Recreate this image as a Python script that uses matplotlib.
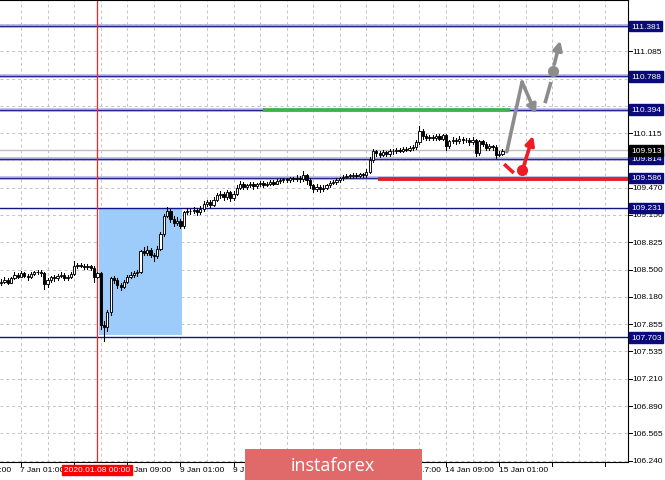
import matplotlib
matplotlib.use("Agg")
import matplotlib.pyplot as plt
import matplotlib.transforms as mtransforms
from matplotlib.patches import Rectangle

# H1 bars, index 0 = 7 Jan 01:00 (weekend skipped)
first_bar = -6
first_open = 108.34
closes = [
    108.36, 108.38, 108.35, 108.40, 108.44, 108.42,                     # -6..-1
    108.46, 108.43, 108.41, 108.45, 108.47, 108.48, 108.46, 108.33,     # 0..7
    108.38, 108.41, 108.40, 108.43, 108.44, 108.40, 108.42, 108.45,     # 8..15
    108.54, 108.56, 108.55, 108.53, 108.55, 108.52, 108.42, 108.46,     # 16..23
    107.85, 107.82, 108.00, 108.40, 108.38, 108.32, 108.30, 108.36,     # 24..31
    108.42, 108.44, 108.46, 108.47, 108.72, 108.70, 108.74, 108.68,     # 32..39
    108.66, 108.75, 108.92, 109.14, 109.20, 109.10, 109.05, 109.08,     # 40..47
    109.02, 109.18, 109.20, 109.19, 109.21, 109.18, 109.22, 109.28,     # 48..55
    109.30, 109.27, 109.33, 109.38, 109.40, 109.36, 109.42, 109.35,     # 56..63
    109.40, 109.47, 109.52, 109.48, 109.50, 109.52, 109.49, 109.51,     # 64..71
    109.53, 109.50, 109.52, 109.54, 109.52, 109.55, 109.56, 109.57,     # 72..79
    109.56, 109.58, 109.57, 109.59, 109.57, 109.62, 109.56, 109.50,     # 80..87
    109.46, 109.48, 109.45, 109.47, 109.50, 109.53, 109.54, 109.56,     # 88..95
    109.58, 109.60, 109.61, 109.61, 109.62, 109.61, 109.63, 109.62,     # 96..103
    109.66, 109.80, 109.90, 109.88, 109.86, 109.89, 109.87, 109.91,     # 104..111
    109.90, 109.92, 109.91, 109.93, 109.92, 109.94, 109.95, 110.01,     # 112..119
    110.14, 110.08, 110.06, 110.07, 110.06, 110.08, 110.05, 110.09,     # 120..127
    109.96, 110.02, 110.04, 110.02, 110.05, 110.03, 110.04, 110.01,     # 128..135
    110.03, 109.88, 110.02, 109.99, 109.94, 109.96, 109.95, 109.86,     # 136..143
    109.87, 109.91,                                                     # 144..145
]
highs = [
    108.39, 108.41, 108.40, 108.42, 108.47, 108.46,
    108.49, 108.48, 108.45, 108.47, 108.49, 108.50, 108.50, 108.47,
    108.40, 108.43, 108.44, 108.45, 108.47, 108.46, 108.44, 108.47,
    108.60, 108.58, 108.58, 108.57, 108.57, 108.56, 108.54, 108.48,
    108.47, 107.90, 108.02, 108.42, 108.43, 108.40, 108.35, 108.38,
    108.44, 108.47, 108.49, 108.50, 108.74, 108.77, 108.78, 108.76,
    108.70, 108.78, 108.95, 109.16, 109.24, 109.22, 109.14, 109.12,
    109.10, 109.20, 109.23, 109.22, 109.24, 109.23, 109.25, 109.31,
    109.33, 109.32, 109.36, 109.41, 109.43, 109.42, 109.44, 109.43,
    109.43, 109.50, 109.55, 109.54, 109.52, 109.54, 109.54, 109.53,
    109.55, 109.55, 109.54, 109.56, 109.56, 109.57, 109.58, 109.59,
    109.59, 109.60, 109.60, 109.62, 109.61, 109.67, 109.63, 109.58,
    109.52, 109.51, 109.50, 109.50, 109.52, 109.55, 109.56, 109.58,
    109.60, 109.62, 109.63, 109.63, 109.64, 109.64, 109.65, 109.65,
    109.69, 109.83, 109.93, 109.92, 109.91, 109.92, 109.91, 109.93,
    109.93, 109.94, 109.94, 109.95, 109.95, 109.96, 109.97, 110.04,
    110.20, 110.16, 110.10, 110.09, 110.09, 110.10, 110.10, 110.11,
    110.10, 110.04, 110.07, 110.06, 110.08, 110.07, 110.06, 110.06,
    110.07, 110.05, 110.04, 110.04, 110.01, 109.99, 109.98, 109.97,
    109.90, 109.93,
]
lows = [
    108.32, 108.34, 108.33, 108.34, 108.39, 108.40,
    108.41, 108.41, 108.38, 108.40, 108.44, 108.45, 108.43, 108.27,
    108.30, 108.36, 108.37, 108.38, 108.41, 108.38, 108.38, 108.40,
    108.44, 108.52, 108.53, 108.51, 108.51, 108.50, 108.36, 108.40,
    107.80, 107.66, 107.78, 107.96, 108.34, 108.28, 108.26, 108.28,
    108.34, 108.40, 108.42, 108.43, 108.46, 108.67, 108.68, 108.65,
    108.61, 108.64, 108.73, 108.90, 109.12, 109.06, 109.02, 109.03,
    108.99, 109.00, 109.16, 109.16, 109.17, 109.15, 109.16, 109.20,
    109.25, 109.24, 109.25, 109.31, 109.35, 109.33, 109.34, 109.31,
    109.33, 109.38, 109.45, 109.45, 109.46, 109.48, 109.46, 109.47,
    109.49, 109.48, 109.49, 109.50, 109.50, 109.51, 109.53, 109.54,
    109.54, 109.54, 109.55, 109.55, 109.54, 109.55, 109.52, 109.47,
    109.42, 109.43, 109.42, 109.43, 109.45, 109.48, 109.51, 109.52,
    109.54, 109.56, 109.58, 109.59, 109.59, 109.59, 109.60, 109.60,
    109.60, 109.64, 109.78, 109.85, 109.83, 109.84, 109.84, 109.85,
    109.87, 109.88, 109.89, 109.89, 109.90, 109.90, 109.92, 109.93,
    109.99, 110.05, 110.03, 110.04, 110.04, 110.04, 110.03, 110.03,
    109.92, 109.94, 110.00, 109.99, 110.00, 110.00, 110.01, 109.98,
    109.99, 109.85, 109.86, 109.96, 109.92, 109.92, 109.92, 109.82,
    109.84, 109.86,
]

price_labels = [106.240, 106.565, 106.890, 107.210, 107.535, 107.855, 108.180,
                108.500, 108.825, 109.150, 109.470, 110.115, 111.085]
price_grid = price_labels + [109.795, 110.440, 110.760, 111.405]

# time labels that show (some are partly covered in the source picture)
time_ticks = [-16, 0, 32, 48, 64, 112, 128, 144]
time_labels = ["6 Jan 09:00", "7 Jan 01:00", "8 Jan 09:00", "9 Jan 01:00",
               "9 Jan 17:00", "13 Jan 17:00", "14 Jan 09:00", "15 Jan 01:00"]
tick_marks = list(range(0, 184, 16))
grid_bars = list(range(0, 184, 8))

wide_levels = [111.381, 110.788, 110.394, 109.814, 109.586]
thin_levels = [109.231, 107.703]
current_price = 109.913

marker_bar = 23          # 2020.01.08 00:00
marker_label = "2020.01.08 00:00"
box_bars = [23.5, 48.5]
box_prices = [107.73, 109.231]
green_bars = [73.0, 147.3]
green_price = 110.394
red_bars = [107.5, 183.0]
red_price = 109.575

# forecast arrows (bar, price)
gray_path = [(146.3, 109.896), (150.9, 110.72), (155.1, 110.342)]
gray_dash = [(157.8, 110.47), (159.6, 110.72)]
gray_dot = (160.1, 110.85)
gray_tip = [(160.6, 110.93), (162.4, 111.21)]
red_dash = [(145.5, 109.75), (148.4, 109.645)]
red_dot = (151.0, 109.686)
red_tip = [(151.5, 109.74), (154.2, 110.085)]

W, H = 665, 481
fig = plt.figure(figsize=(W / 100, H / 100), dpi=100)
fig.patch.set_facecolor("white")
ax = fig.add_axes([0, 18 / H, 628 / W, 462 / H])
ax.set_xlim(-6.33, 182.8)
ax.set_ylim(106.228, 111.69)
ax.spines["left"].set_visible(False)
for s in ["right", "bottom", "top"]:
    ax.spines[s].set_color("black")
    ax.spines[s].set_linewidth(0.8)
ax.set_xticks([])
ax.set_yticks([])

grid_kw = dict(color="#c4c4c4", lw=0.7, ls=(0, (3, 3)), zorder=0)
for p in price_grid:
    ax.axhline(p, **grid_kw)
for b in grid_bars:
    ax.axvline(b, **grid_kw)

ax.add_patch(Rectangle((box_bars[0], box_prices[0]), box_bars[1] - box_bars[0],
                       box_prices[1] - box_prices[0], facecolor="#9dcbfa",
                       edgecolor="none", zorder=1))

for p in wide_levels:
    ax.axhline(p, color="#b4b4e0", lw=2.6, zorder=2)
    ax.axhline(p, color="#26268f", lw=0.9, zorder=2)
for p in thin_levels:
    ax.axhline(p, color="#14148a", lw=1.0, zorder=2)
ax.axhline(current_price, color="#c0c0c0", lw=1.0, zorder=2)
ax.axvline(marker_bar, color="#ff2020", lw=0.9, zorder=2)

ax.plot(green_bars, [green_price] * 2, color="#3cb449", lw=2.6,
        solid_capstyle="butt", zorder=3)
ax.plot(red_bars, [red_price] * 2, color="#e3202a", lw=2.8,
        solid_capstyle="butt", zorder=3)

# candles
opens = [first_open] + closes[:-1]
for i, (o, h, l, c) in enumerate(zip(opens, highs, lows, closes)):
    x = first_bar + i
    ax.plot([x, x], [l, h], color="black", lw=0.75, zorder=4)
    bull = c >= o
    body = max(abs(c - o), 0.006)
    ax.add_patch(Rectangle((x - 0.34, min(o, c)), 0.68, body,
                           facecolor="white" if bull else "black",
                           edgecolor="black", lw=0.65, zorder=5))

# arrows
gray = "#8c8c8c"
arrow_kw = dict(arrowstyle="-|>", lw=2.6, mutation_scale=13, shrinkA=0, shrinkB=0)
xs, ys = zip(*gray_path[:2])
ax.plot(xs, ys, color=gray, lw=2.6, solid_capstyle="round", zorder=6)
ax.annotate("", xy=gray_path[2], xytext=gray_path[1],
            arrowprops=dict(color=gray, **arrow_kw), zorder=6)
xs, ys = zip(*gray_dash)
ax.plot(xs, ys, color=gray, lw=2.6, solid_capstyle="butt", zorder=6)
ax.plot(*gray_dot, "o", color=gray, ms=7, zorder=6)
ax.annotate("", xy=gray_tip[1], xytext=gray_tip[0],
            arrowprops=dict(color=gray, **arrow_kw), zorder=6)

red = "#ee1c25"
xs, ys = zip(*red_dash)
ax.plot(xs, ys, color=red, lw=2.6, solid_capstyle="butt", zorder=6)
ax.plot(*red_dot, "o", color=red, ms=7, zorder=6)
ax.annotate("", xy=red_tip[1], xytext=red_tip[0],
            arrowprops=dict(color=red, **arrow_kw), zorder=6)

# right price scale
fnt = dict(family="Liberation Sans", fontsize=6.0)
ytr = mtransforms.blended_transform_factory(fig.transFigure, ax.transData)
yax = mtransforms.blended_transform_factory(ax.transAxes, ax.transData)
for p in price_grid:
    ax.plot([1.0, 1.006], [p, p], color="black", lw=0.7, transform=yax,
            clip_on=False)
for p in price_labels:
    fig.text(632 / W, p, f"{p:.3f}", va="center", ha="left", transform=ytr,
             color="black", **fnt)
for p in wide_levels + thin_levels:
    fig.text(631 / W, p, f"{p:.3f}", va="center", ha="left", transform=ytr,
             color="white", zorder=10,
             bbox=dict(boxstyle="square,pad=0.22", facecolor="#0a0a7a",
                       edgecolor="#0a0a7a"), **fnt)
fig.text(631 / W, current_price, f"{current_price:.3f}", va="center", ha="left",
         transform=ytr, color="white", zorder=11,
         bbox=dict(boxstyle="square,pad=0.22", facecolor="black",
                   edgecolor="black"), **fnt)

# time scale
xtr = mtransforms.blended_transform_factory(ax.transData, fig.transFigure)
xax = mtransforms.blended_transform_factory(ax.transData, ax.transAxes)
for b in tick_marks:
    ax.plot([b, b], [0, -0.008], color="black", lw=0.7, transform=xax,
            clip_on=False)
# covered parts: figure edge, red date box (64-129 px) and banner (245-422 px)
visible = {-16: (0, W), 32: (130, W), 64: (0, 244), 112: (423, W)}
for b, lab in zip(time_ticks, time_labels):
    t = fig.text(b - 0.2, 10 / H, lab, transform=xtr, ha="left", va="center",
                 color="black", **fnt)
    if b in visible:
        lo, hi = visible[b]
        t.set_clip_box(mtransforms.Bbox.from_extents(lo, 0, hi, H))
        t.set_clip_on(True)
fig.text(marker_bar - 10.0, 10 / H, marker_label, transform=xtr, ha="left",
         va="center", color="white", zorder=10,
         bbox=dict(boxstyle="square,pad=0.22", facecolor="#ff0000",
                   edgecolor="#ff0000"), **fnt)

# watermark banner
fig.add_artist(Rectangle((245 / W, 0), 177 / W, 31 / H, transform=fig.transFigure,
                         facecolor="#e06a6a", edgecolor="none", zorder=20))
fig.text(333 / W, 15 / H, "instaforex", ha="center", va="center", color="white",
         family="Open Sans", fontsize=13, zorder=21)

fig.savefig("out.png", dpi=100)
